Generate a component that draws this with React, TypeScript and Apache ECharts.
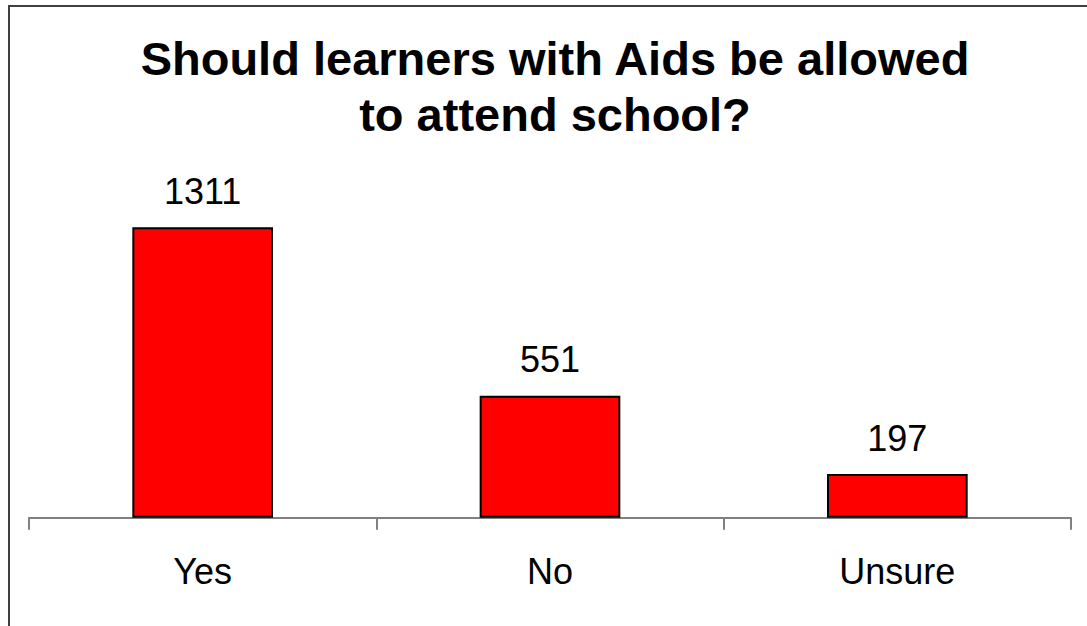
import React, { useEffect, useRef } from "react";
import * as echarts from "echarts";

const titleText = "Should learners with Aids be allowed\nto attend school?";
const categories = ["Yes", "No", "Unsure"];
const values = [1311, 551, 197];
const yMax = 1400;

export default function App() {
  const ref = useRef<HTMLDivElement>(null);
  useEffect(() => {
    if (!ref.current) return;
    const chart = echarts.init(ref.current, null, { renderer: "svg" });
    const font = "'Liberation Sans', Arial, sans-serif";
    chart.setOption({
      animation: false,
      backgroundColor: "#ffffff",
      title: {
        text: titleText,
        left: 550,
        top: 25,
        textAlign: "center",
        textStyle: {
          fontFamily: font,
          fontSize: 47,
          fontWeight: "bold",
          lineHeight: 56,
          color: "#000000",
        },
      },
      graphic: [
        {
          type: "rect",
          shape: { x: 9, y: 6, width: 1200, height: 800 },
          style: { fill: "none", stroke: "#404040", lineWidth: 2 },
          silent: true,
        },
      ],
      grid: { left: 29, right: 16, top: 207.6, bottom: 108.3 },
      xAxis: {
        type: "category",
        data: categories,
        axisLine: { show: true, lineStyle: { color: "#808080", width: 2 } },
        axisTick: { show: true, length: 12, lineStyle: { color: "#808080", width: 2 } },
        axisLabel: {
          margin: 36,
          fontFamily: font,
          fontSize: 36,
          lineHeight: 36,
          color: "#000000",
        },
      },
      yAxis: {
        type: "value",
        min: 0,
        max: yMax,
        show: false,
        splitLine: { show: false },
      },
      series: [
        {
          type: "bar",
          data: values,
          barWidth: "40.5%",
          itemStyle: { color: "#ff0000", borderColor: "#000000", borderWidth: 2 },
          label: {
            show: true,
            position: "top",
            distance: 18,
            fontFamily: font,
            fontSize: 36,
            lineHeight: 36,
            color: "#000000",
          },
        },
      ],
    });
    return () => chart.dispose();
  }, []);
  return (
    <div
      ref={ref}
      style={{ position: "absolute", left: 0, top: 0, width: 1087, height: 626 }}
    />
  );
}
